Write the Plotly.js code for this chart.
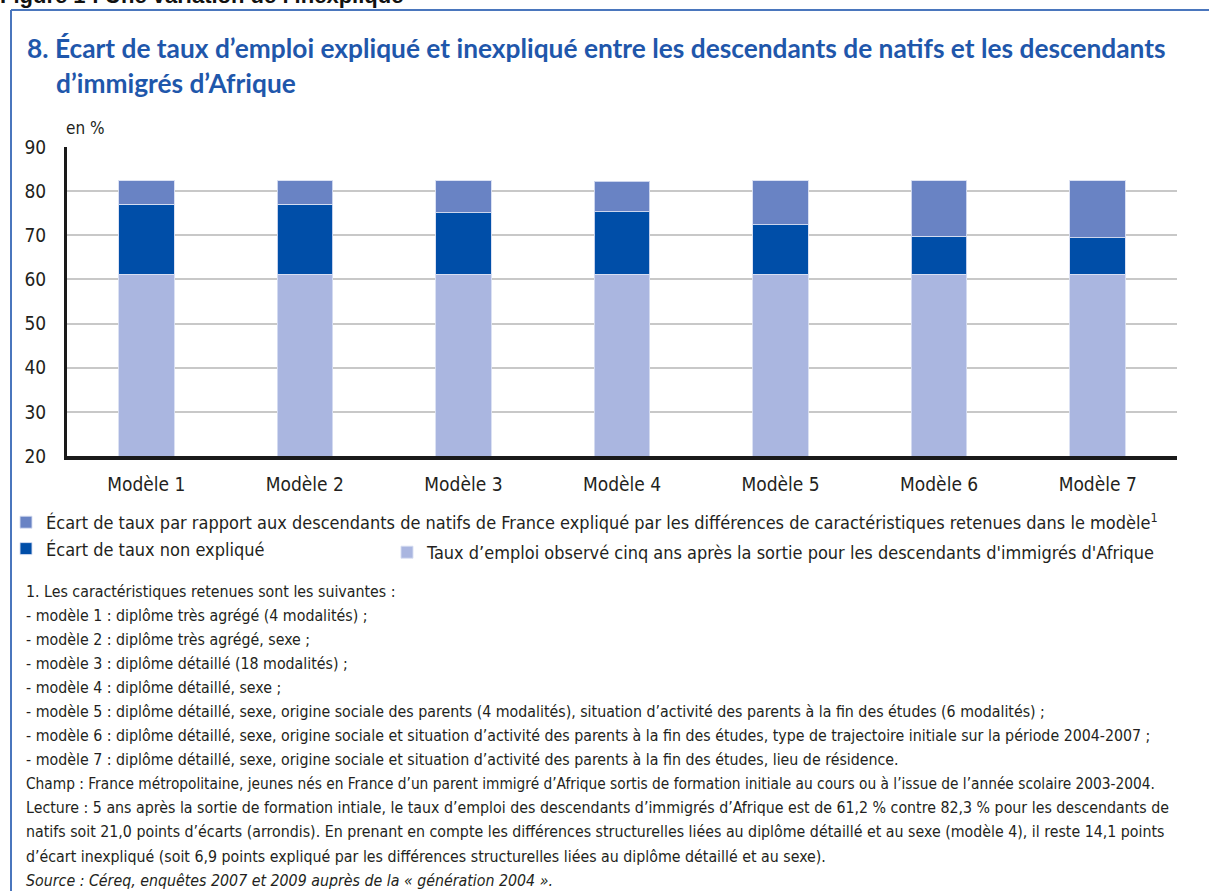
<!DOCTYPE html>
<html>
<head>
<meta charset="utf-8">
<script src="https://cdn.plot.ly/plotly-3.0.1.min.js"></script>
<style>
  html, body { margin: 0; padding: 0; background: #ffffff; }
  #chart { width: 1209px; height: 891px; }
</style>
</head>
<body>
<div id="chart"></div>
<script>
// ---- Data ----
const categories = ['Modèle 1', 'Modèle 2', 'Modèle 3', 'Modèle 4', 'Modèle 5', 'Modèle 6', 'Modèle 7'];
const observed = [61.2, 61.2, 61.2, 61.2, 61.2, 61.2, 61.2];
const unexplained = [15.8, 15.8, 13.9, 14.1, 11.2, 8.6, 8.2];
const explained = [5.3, 5.3, 7.2, 6.9, 9.9, 12.5, 12.9];
const yTicks = [20, 30, 40, 50, 60, 70, 80, 90];

const seriesNames = {
  explained: 'Écart de taux par rapport aux descendants de natifs de France expliqué par les différences de caractéristiques retenues dans le modèle<sup>1</sup>',
  unexplained: 'Écart de taux non expliqué',
  observed: 'Taux d’emploi observé cinq ans après la sortie pour les descendants d\'immigrés d\'Afrique'
};

const titleLine1 = '8. Écart de taux d’emploi expliqué et inexpliqué entre les descendants de natifs et les descendants';
const titleLine2 = 'd’immigrés d’Afrique';
const figureHeading = 'Figure 1 : Une variation de l’inexpliqué';
const unitLabel = 'en %';
const footnotes = [
  '1. Les caractéristiques retenues sont les suivantes :',
  '- modèle 1 : diplôme très agrégé (4 modalités) ;',
  '- modèle 2 : diplôme très agrégé, sexe ;',
  '- modèle 3 : diplôme détaillé (18 modalités) ;',
  '- modèle 4 : diplôme détaillé, sexe ;',
  '- modèle 5 : diplôme détaillé, sexe, origine sociale des parents (4 modalités), situation d’activité des parents à la fin des études (6 modalités) ;',
  '- modèle 6 : diplôme détaillé, sexe, origine sociale et situation d’activité des parents à la fin des études, type de trajectoire initiale sur la période 2004-2007 ;',
  '- modèle 7 : diplôme détaillé, sexe, origine sociale et situation d’activité des parents à la fin des études, lieu de résidence.',
  'Champ : France métropolitaine, jeunes nés en France d’un parent immigré d’Afrique sortis de formation initiale au cours ou à l’issue de l’année scolaire 2003-2004.',
  'Lecture : 5 ans après la sortie de formation intiale, le taux d’emploi des descendants d’immigrés d’Afrique est de 61,2 % contre 82,3 % pour les descendants de',
  'natifs soit 21,0 points d’écarts (arrondis). En prenant en compte les différences structurelles liées au diplôme détaillé et au sexe (modèle 4), il reste 14,1 points',
  'd’écart inexpliqué (soit 6,9 points expliqué par les différences structurelles liées au diplôme détaillé et au sexe).',
  '<i>Source : Céreq, enquêtes 2007 et 2009 auprès de la « génération 2004 ».</i>'
];

// ---- Styling ----
const NARROW = '"Liberation Sans Narrow", "Arial Narrow", "DejaVu Sans Condensed", sans-serif';
const TEXT = '#231f20';
const W = 1209, H = 891;
const M = { l: 67, r: 32, t: 147, b: 435 };
const PW = W - M.l - M.r, PH = H - M.t - M.b;
const px = v => (v - M.l) / PW;      // page x pixel -> paper
const py = v => (H - M.b - v) / PH;  // page y pixel -> paper

const lineStyle = { color: 'rgba(215,222,242,0.9)', width: 1 };

const traces = [
  { type: 'bar', x: categories, y: observed, name: seriesNames.observed,
    marker: { color: '#aab6e0', line: lineStyle }, legend: 'legend2', hoverinfo: 'skip' },
  { type: 'bar', x: categories, y: unexplained, name: seriesNames.unexplained,
    marker: { color: '#004ea8', line: lineStyle }, legend: 'legend', legendrank: 2, hoverinfo: 'skip' },
  { type: 'bar', x: categories, y: explained, name: seriesNames.explained,
    marker: { color: '#6983c4', line: lineStyle }, legend: 'legend', legendrank: 1, hoverinfo: 'skip' }
];

const legendFont = { family: NARROW, size: 18, color: TEXT };

const footnoteAnnotations = footnotes.map((t, i) => ({
  xref: 'paper', yref: 'paper', x: px(24), y: py(591 + i * 24.1),
  xanchor: 'left', yanchor: 'middle', align: 'left', text: t, showarrow: false,
  font: { family: NARROW, size: (i === 8 ? 15.3 : 15.8), color: TEXT }
}));

const layout = {
  width: W, height: H,
  margin: { l: M.l, r: M.r, t: M.t, b: M.b, autoexpand: false },
  paper_bgcolor: '#ffffff', plot_bgcolor: '#ffffff',
  barmode: 'stack', bargap: 0.65,
  showlegend: true,
  legend: { x: px(6), y: py(504), xanchor: 'left', yanchor: 'top', orientation: 'v',
            traceorder: 'normal', font: legendFont, bgcolor: 'rgba(0,0,0,0)', tracegroupgap: 0 },
  legend2: { x: px(387), y: py(534), xanchor: 'left', yanchor: 'top', orientation: 'v',
             font: legendFont, bgcolor: 'rgba(0,0,0,0)' },
  xaxis: {
    type: 'category', range: [-0.5, categories.length - 0.5], fixedrange: true,
    showline: true, linecolor: '#1a1a1a', linewidth: 4, showgrid: false, ticks: '',
    ticklabelstandoff: 8,
    tickfont: { family: NARROW, size: 19, color: TEXT }
  },
  yaxis: {
    range: [20, 90], tickvals: yTicks, fixedrange: true,
    showline: true, linecolor: '#1a1a1a', linewidth: 3,
    showgrid: true, gridcolor: '#c8c8c8', gridwidth: 2, zeroline: false, ticks: '',
    ticklabelstandoff: 14,
    tickfont: { family: NARROW, size: 19, color: TEXT }
  },
  shapes: [
    { type: 'line', xref: 'paper', yref: 'paper', x0: px(11), x1: px(W + 5), y0: py(10), y1: py(10),
      line: { color: '#4a76bd', width: 2 } },
    { type: 'line', xref: 'paper', yref: 'paper', x0: px(11), x1: px(11), y0: py(10), y1: py(H + 5),
      line: { color: '#4a76bd', width: 2 } }
  ],
  annotations: [
    { xref: 'paper', yref: 'paper', x: px(-2), y: py(-5), xanchor: 'left', yanchor: 'middle',
      text: '<b>' + figureHeading + '</b>', showarrow: false,
      font: { family: 'Liberation Sans, Arial, sans-serif', size: 22, color: '#111111' } },
    { xref: 'paper', yref: 'paper', x: px(25), y: py(48), xanchor: 'left', yanchor: 'middle',
      text: '<b>' + titleLine1 + '</b>', showarrow: false,
      font: { family: 'Lato, sans-serif', size: 26.3, color: '#1f57ab' } },
    { xref: 'paper', yref: 'paper', x: px(54), y: py(83), xanchor: 'left', yanchor: 'middle',
      text: '<b>' + titleLine2 + '</b>', showarrow: false,
      font: { family: 'Lato, sans-serif', size: 26.3, color: '#1f57ab' } },
    { xref: 'paper', yref: 'paper', x: px(64), y: py(128), xanchor: 'left', yanchor: 'middle',
      text: unitLabel, showarrow: false,
      font: { family: NARROW, size: 17, color: TEXT } }
  ].concat(footnoteAnnotations)
};

Plotly.newPlot('chart', traces, layout, { staticPlot: true, displayModeBar: false });
</script>
</body>
</html>
